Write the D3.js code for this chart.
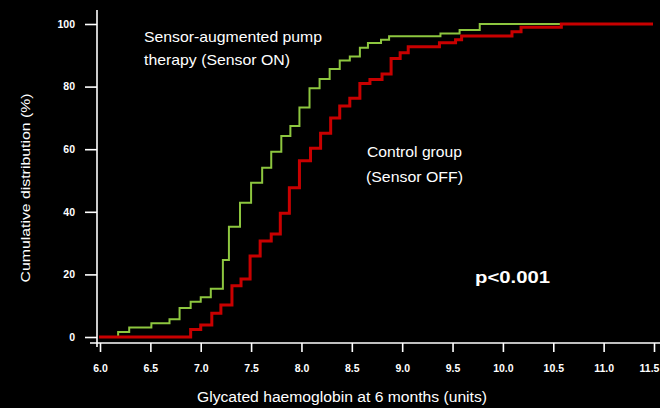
<!DOCTYPE html>
<html><head><meta charset="utf-8">
<script src="https://cdn.jsdelivr.net/npm/d3@7"></script>
<style>
html,body{margin:0;padding:0;background:#000;}
svg{display:block;}
text{font-family:"Liberation Sans",Arial,sans-serif;fill:#fff;}
</style></head>
<body>
<script>
// ---- data ----
const xTicks = [6.0, 6.5, 7.0, 7.5, 8.0, 8.5, 9.0, 9.5, 10.0, 10.5, 11.0, 11.5];
const yTicks = [0, 20, 40, 60, 80, 100];
const seriesNames = ["Sensor-augmented pump therapy (Sensor ON)", "Control group (Sensor OFF)"];
// step points: HbA1c value at which the cumulative % jumps to the given level
const sensorOnX = [6.18, 6.18, 6.29, 6.51, 6.69, 6.79, 6.90, 7.00, 7.10, 7.22, 7.28, 7.39, 7.50, 7.61, 7.70, 7.80, 7.89, 7.98, 8.08, 8.18, 8.28, 8.38, 8.48, 8.58, 8.66, 8.79, 8.87, 9.38, 9.57, 9.77, 11.49];
const sensorOnY = [0, 1.6, 3.0, 4.4, 5.7, 9.3, 11.3, 12.7, 15.4, 24.6, 35.2, 42.9, 49.3, 54.1, 59.2, 64.2, 67.4, 73.3, 79.5, 82.4, 85.6, 88.3, 89.6, 92.4, 93.9, 95.0, 96.1, 97.0, 98.1, 100, 100];
const controlX = [5.99, 6.90, 7.00, 7.11, 7.20, 7.31, 7.40, 7.49, 7.59, 7.70, 7.79, 7.88, 7.98, 8.09, 8.19, 8.29, 8.38, 8.48, 8.58, 8.68, 8.80, 8.89, 8.98, 9.06, 9.37, 9.53, 9.59, 10.09, 10.18, 10.58, 11.49];
const controlY = [0, 2.4, 3.8, 7.6, 10.2, 16.4, 18.5, 25.9, 30.7, 32.9, 39.5, 47.7, 56.3, 60.3, 65.1, 70.0, 73.8, 76.3, 81.0, 82.3, 84.0, 89.0, 90.8, 92.7, 94.0, 95.0, 96.2, 97.5, 99.0, 100, 100];

const W = 660, H = 408;
const svg = d3.select("body").append("svg").attr("width", W).attr("height", H);
svg.append("rect").attr("width", W).attr("height", H).attr("fill", "#000");

const x = d3.scaleLinear().domain([6, 11.5]).range([100, 654]);
const y = d3.scaleLinear().domain([0, 100]).range([337, 24]);

const axisX0 = 97, axisY0 = 343;

// axes lines
svg.append("line").attr("x1", axisX0).attr("x2", axisX0).attr("y1", 10).attr("y2", axisY0 + 4)
  .attr("stroke", "#fff").attr("stroke-width", 1.6);
svg.append("line").attr("x1", axisX0 - 7).attr("x2", W).attr("y1", axisY0).attr("y2", axisY0)
  .attr("stroke", "#fff").attr("stroke-width", 1.6);

// y axis
const gy = svg.append("g").attr("transform", `translate(${axisX0},0)`)
  .call(d3.axisLeft(y).tickValues(yTicks).tickSize(12).tickPadding(10).tickFormat(d3.format("d")));
gy.select(".domain").remove();
gy.selectAll(".tick line").attr("stroke", "#fff").attr("stroke-width", 1.6);
gy.selectAll(".tick text").attr("fill", "#fff").style("font-size", "10.5px").style("font-weight", "bold")
  .style("font-family", "'Liberation Sans',Arial,sans-serif");

// x axis
const gx = svg.append("g").attr("transform", `translate(0,${axisY0})`)
  .call(d3.axisBottom(x).tickValues(xTicks).tickSize(9).tickPadding(13).tickFormat(d3.format(".1f")));
gx.select(".domain").remove();
gx.selectAll(".tick line").attr("stroke", "#fff").attr("stroke-width", 1.6);
gx.selectAll(".tick text").attr("fill", "#fff").style("font-size", "10.5px").style("font-weight", "bold")
  .style("font-family", "'Liberation Sans',Arial,sans-serif");
gx.selectAll(".tick text").filter(d => d === 11.5).attr("dx", -5);

// lines
const line = d3.line().x(d => x(d[0])).y(d => y(d[1])).curve(d3.curveStepAfter);
const onData = sensorOnX.map((v, i) => [v, sensorOnY[i]]);
const offData = controlX.map((v, i) => [v, controlY[i]]);
svg.append("path").datum(onData).attr("d", line).attr("fill", "none")
  .attr("stroke", "#8dc63f").attr("stroke-width", 2);
svg.append("path").datum(offData).attr("d", line).attr("fill", "none")
  .attr("stroke", "#c80000").attr("stroke-width", 3);

// labels
svg.append("text").attr("x", 144).attr("y", 42).style("font-size", "15px")
  .attr("textLength", 178).attr("lengthAdjust", "spacingAndGlyphs").text("Sensor-augmented pump");
svg.append("text").attr("x", 144).attr("y", 65).style("font-size", "15px")
  .attr("textLength", 146).attr("lengthAdjust", "spacingAndGlyphs").text("therapy (Sensor ON)");
svg.append("text").attr("x", 367).attr("y", 157).style("font-size", "15px")
  .attr("textLength", 95).attr("lengthAdjust", "spacingAndGlyphs").text("Control group");
svg.append("text").attr("x", 366).attr("y", 182).style("font-size", "15px")
  .attr("textLength", 97).attr("lengthAdjust", "spacingAndGlyphs").text("(Sensor OFF)");
svg.append("text").attr("x", 475).attr("y", 283).style("font-size", "17px").style("font-weight", "bold")
  .attr("textLength", 75).attr("lengthAdjust", "spacingAndGlyphs").text("p<0.001");

svg.append("text").attr("x", 342).attr("y", 402).attr("text-anchor", "middle").style("font-size", "14px")
  .attr("textLength", 290).attr("lengthAdjust", "spacingAndGlyphs").text("Glycated haemoglobin at 6 months (units)");
svg.append("text").attr("transform", "translate(30,188) rotate(-90)").attr("text-anchor", "middle").style("font-size", "13px")
  .attr("textLength", 189).attr("lengthAdjust", "spacingAndGlyphs").text("Cumulative distribution (%)");
</script>
</body></html>
